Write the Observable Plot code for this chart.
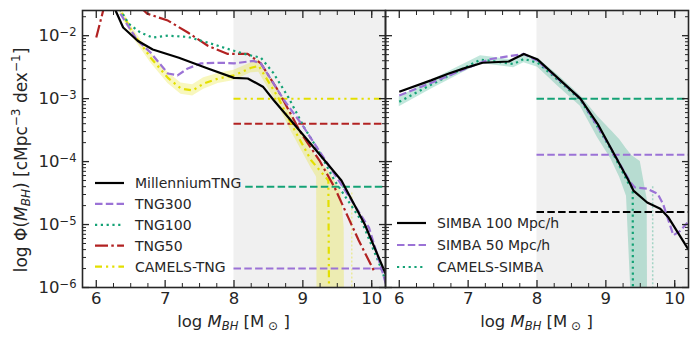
<!DOCTYPE html>
<html>
<head>
<meta charset="utf-8">
<script src="https://cdn.jsdelivr.net/npm/d3@7"></script>
<script src="https://cdn.jsdelivr.net/npm/@observablehq/plot@0.6"></script>
<style>
  html, body { margin: 0; padding: 0; background: #fff; }
  #wrap { position: relative; width: 698px; height: 343px; overflow: hidden; font-family: "DejaVu Sans", sans-serif; }
  #wrap svg { position: absolute; top: 0; overflow: visible; }
</style>
</head>
<body>
<div id="wrap"></div>
<script>
// ---------- axis settings (data space) ----------
const xDomain = [5.8, 10.2];
const yDomainLog = [-6, -1.6];
const xMajor = [6, 7, 8, 9, 10];
const xMinor = [6.25, 6.5, 6.75, 7.25, 7.5, 7.75, 8.25, 8.5, 8.75, 9.25, 9.5, 9.75, 10];
const yMajorExp = [-6, -5, -4, -3, -2];
const shadeStart = 8;

// ---------- left panel: TNG family (log10 Phi) ----------
const mtngX = [6.1, 6.28, 6.39, 6.6, 6.82, 7.2, 7.62, 8.0, 8.2, 8.42, 8.58, 9.0, 9.56, 9.9, 10.2];
const mtngY = [-1.35, -1.6, -1.87, -2.08, -2.22, -2.35, -2.52, -2.67, -2.68, -2.81, -3.03, -3.57, -4.30, -5.0, -5.78];

const tng300X = [6.2, 6.32, 6.6, 6.79, 7.04, 7.18, 7.33, 7.52, 7.81, 8.0, 8.28, 8.39, 8.73, 8.98, 9.52, 9.96, 10.15, 10.22];
const tng300Y = [-1.35, -1.6, -2.08, -2.27, -2.6, -2.63, -2.52, -2.44, -2.43, -2.44, -2.40, -2.44, -3.03, -3.40, -4.30, -5.05, -5.73, -6.0];

const tng100X = [6.3, 6.47, 6.64, 6.82, 7.04, 7.33, 7.62, 7.91, 8.15, 8.39, 8.57, 8.79, 9.02, 9.23, 9.46, 9.85, 10.15, 10.22];
const tng100Y = [-1.5, -1.81, -1.95, -2.03, -2.0, -2.02, -2.11, -2.21, -2.29, -2.35, -2.59, -2.98, -3.46, -3.83, -4.30, -4.94, -5.73, -5.97];

const tng50X = [6.0, 6.1, 6.3, 6.55, 6.74, 7.04, 7.33, 7.62, 7.91, 8.2, 8.39, 8.64, 8.98, 9.24, 9.46, 9.66, 9.81, 10.03];
const tng50Y = [-2.03, -1.6, -1.2, -1.45, -1.65, -1.76, -1.95, -2.16, -2.29, -2.29, -2.44, -2.87, -3.56, -3.98, -4.41, -4.89, -5.25, -5.73];

const camelsTngX = [6.25, 6.35, 6.54, 6.79, 7.04, 7.23, 7.4, 7.56, 7.77, 8.0, 8.25, 8.36, 8.64, 8.83, 9.12, 9.37, 9.39];
const camelsTngY = [-1.4, -1.6, -1.97, -2.35, -2.67, -2.84, -2.87, -2.76, -2.68, -2.63, -2.51, -2.48, -2.98, -3.40, -3.98, -4.30, -8];

const camelsTngBandX  = [6.25, 6.35, 6.54, 6.79, 7.04, 7.23, 7.4, 7.56, 7.77, 8.0, 8.25, 8.36, 8.64, 8.83, 9.12, 9.2, 9.21, 9.37, 9.46, 9.56, 9.6, 9.61];
const camelsTngBandLo = [-1.45, -1.66, -2.04, -2.43, -2.76, -2.93, -2.96, -2.85, -2.76, -2.71, -2.59, -2.58, -3.1, -3.52, -4.1, -4.25, -8, -8, -8, -8, -8, -8];
const camelsTngBandHi = [-1.35, -1.54, -1.9, -2.27, -2.58, -2.75, -2.78, -2.67, -2.6, -2.55, -2.43, -2.38, -2.84, -3.24, -3.82, -3.93, -3.95, -4.15, -4.3, -4.5, -5.05, -8];
const camelsTngFaintX = 9.71, camelsTngFaintTop = -4.5;

// horizontal reference levels (left)
const leftLevels = [
  {name: "CAMELS-TNG", level: -3.0, start: 8.0},
  {name: "TNG50", level: -3.4, start: 8.0},
  {name: "TNG100", level: -4.4, start: 8.17},
  {name: "TNG300", level: -5.7, start: 8.0}
];

// ---------- right panel: SIMBA family ----------
const simba100X = [6.0, 6.46, 6.72, 6.94, 7.21, 7.59, 7.66, 7.81, 8.01, 8.63, 8.88, 9.07, 9.33, 9.40, 9.6, 9.79, 9.91, 10.2];
const simba100Y = [-2.89, -2.71, -2.60, -2.52, -2.43, -2.41, -2.37, -2.29, -2.38, -3.0, -3.40, -3.78, -4.30, -4.46, -4.65, -4.75, -4.89, -5.40];

const simba50X = [6.0, 6.46, 7.18, 7.33, 7.81, 8.01, 8.63, 9.07, 9.35, 9.42, 9.6, 9.75, 9.83, 9.98, 10.08, 10.2];
const simba50Y = [-2.95, -2.75, -2.43, -2.37, -2.29, -2.40, -3.0, -3.78, -4.32, -4.41, -4.43, -4.51, -4.67, -5.17, -5.1, -4.95];

const camelsSimbaX = [6.0, 6.46, 7.18, 7.33, 7.66, 7.81, 8.01, 8.3, 8.63, 8.88, 9.07, 9.33, 9.39, 9.395];
const camelsSimbaY = [-3.05, -2.78, -2.38, -2.40, -2.45, -2.37, -2.43, -2.7, -3.02, -3.45, -3.80, -4.35, -4.42, -8];

const camelsSimbaBandX  = [6.0, 6.46, 7.18, 7.33, 7.66, 7.81, 8.01, 8.3, 8.63, 8.88, 9.07, 9.2, 9.3, 9.36, 9.37, 9.5, 9.55, 9.6, 9.61];
const camelsSimbaBandLo = [-3.13, -2.85, -2.44, -2.46, -2.51, -2.43, -2.5, -2.8, -3.12, -3.62, -3.95, -4.25, -4.55, -6.0, -8, -8, -8, -8, -8];
const camelsSimbaBandHi = [-2.97, -2.71, -2.32, -2.34, -2.39, -2.31, -2.36, -2.62, -2.95, -3.28, -3.5, -3.65, -3.8, -3.88, -3.9, -4.0, -4.3, -4.6, -8];
const camelsSimbaFaintX = 9.68, camelsSimbaFaintTop = -4.4;

const rightLevels = [
  {name: "CAMELS-SIMBA", level: -3.0, start: 8.0},
  {name: "SIMBA 50 Mpc/h", level: -3.89, start: 8.0},
  {name: "SIMBA 100 Mpc/h", level: -4.80, start: 8.0}
];

// ---------- styles ----------
const C = {black: "#000000", purple: "#9b72d6", green: "#14a276", red: "#b22222", yellow: "#e3df00"};
const DASH = {solid: null, dashed: "7.5,3.3", dotted: "2.2,3.6", dashdot: "13,3.3,2.5,3.3", dashdotdot: "7,4,2.2,4,2.2,4"};

const leftSeries = [
  {name: "MillenniumTNG", xs: mtngX, ys: mtngY, color: C.black, dash: DASH.solid},
  {name: "TNG300", xs: tng300X, ys: tng300Y, color: C.purple, dash: DASH.dashed},
  {name: "TNG100", xs: tng100X, ys: tng100Y, color: C.green, dash: DASH.dotted},
  {name: "TNG50", xs: tng50X, ys: tng50Y, color: C.red, dash: DASH.dashdot},
  {name: "CAMELS-TNG", xs: camelsTngX, ys: camelsTngY, color: C.yellow, dash: DASH.dashdotdot}
];
const rightSeries = [
  {name: "SIMBA 100 Mpc/h", xs: simba100X, ys: simba100Y, color: C.black, dash: DASH.solid},
  {name: "SIMBA 50 Mpc/h", xs: simba50X, ys: simba50Y, color: C.purple, dash: DASH.dashed},
  {name: "CAMELS-SIMBA", xs: camelsSimbaX, ys: camelsSimbaY, color: C.green, dash: DASH.dotted}
];
const levelStyle = {
  "CAMELS-TNG": {color: C.yellow, dash: DASH.dashdotdot},
  "TNG50": {color: C.red, dash: DASH.dashed},
  "TNG100": {color: C.green, dash: DASH.dashed},
  "TNG300": {color: C.purple, dash: DASH.dashed},
  "CAMELS-SIMBA": {color: C.green, dash: DASH.dashed},
  "SIMBA 50 Mpc/h": {color: C.purple, dash: DASH.dashed},
  "SIMBA 100 Mpc/h": {color: C.black, dash: DASH.dashed}
};

// ---------- helpers ----------
const pts = (xs, ys) => xs.map((x, i) => ({x, y: 10 ** ys[i]}));
const band = (xs, lo, hi) => xs.map((x, i) => ({x, lo: 10 ** lo[i], hi: 10 ** hi[i]}));
const fmtPow = d => "10^" + Math.round(Math.log10(d));
const yMajor = yMajorExp.map(e => 10 ** e);
const yMinor = [];
for (let e = yDomainLog[0]; e < Math.ceil(yDomainLog[1]); e++)
  for (let k = 2; k <= 9; k++) { const v = k * 10 ** e; if (Math.log10(v) <= yDomainLog[1]) yMinor.push(v); }
const ink = "#262626";
const TICKFONT = 16.5;

function panel({width, marginLeft, marginRight, series, levels, bandData, faint, showY}) {
  const shade = [{x1: shadeStart, x2: xDomain[1], y1: 10 ** yDomainLog[0], y2: 10 ** yDomainLog[1]}];
  const marks = [
    Plot.rect(shade, {x1: "x1", x2: "x2", y1: "y1", y2: "y2", fill: "#f0f0f0"}),
    Plot.areaY(bandData.data, {x: "x", y1: "lo", y2: "hi", fill: bandData.color, fillOpacity: bandData.opacity, curve: "linear", clip: true}),
    Plot.ruleX([faint.x], {y1: 10 ** faint.top, y2: 10 ** yDomainLog[0], stroke: bandData.color, strokeOpacity: 0.35, strokeWidth: 1.5, strokeDasharray: "2,2"}),
    ...levels.map(l => Plot.ruleY([10 ** l.level], {x1: l.start, x2: xDomain[1], stroke: levelStyle[l.name].color, strokeWidth: 2, strokeDasharray: levelStyle[l.name].dash, clip: true})),
    ...series.slice().reverse().map(s => Plot.line(pts(s.xs, s.ys), {x: "x", y: "y", stroke: s.color, strokeWidth: 2.2, strokeDasharray: s.dash, strokeLinecap: "butt", strokeLinejoin: "round", clip: true})),
    // inward ticks on all sides
    Plot.axisX(xMajor, {anchor: "bottom", tickSize: -7, fill: "none", label: null, stroke: ink, strokeWidth: 1.3}),
    Plot.axisX(xMinor, {anchor: "bottom", tickSize: -4, fill: "none", label: null, stroke: ink, strokeWidth: 1}),
    Plot.axisX(xMajor, {anchor: "top", tickSize: -7, fill: "none", label: null, stroke: ink, strokeWidth: 1.3}),
    Plot.axisX(xMinor, {anchor: "top", tickSize: -4, fill: "none", label: null, stroke: ink, strokeWidth: 1}),
    Plot.axisY(yMajor, {anchor: "left", tickSize: -7, fill: "none", label: null, stroke: ink, strokeWidth: 1.3}),
    Plot.axisY(yMinor, {anchor: "left", tickSize: -4, fill: "none", label: null, stroke: ink, strokeWidth: 1}),
    Plot.axisY(yMajor, {anchor: "right", tickSize: -7, fill: "none", label: null, stroke: ink, strokeWidth: 1.3}),
    Plot.axisY(yMinor, {anchor: "right", tickSize: -4, fill: "none", label: null, stroke: ink, strokeWidth: 1}),
    // tick labels
    Plot.axisX(xMajor, {anchor: "bottom", tickSize: 0, tickPadding: 5, label: null, tickFormat: d => String(d), fill: ink, fontSize: TICKFONT})
  ];
  if (showY) marks.push(Plot.axisY(yMajor, {anchor: "left", tickSize: 0, tickPadding: 6, label: null, tickFormat: fmtPow, fill: ink, fontSize: TICKFONT, ariaLabel: "ypow"}));
  marks.push(Plot.frame({stroke: ink, strokeWidth: 1.6}));
  const svg = Plot.plot({
    width, height: 343, marginTop: 10, marginBottom: 56, marginLeft, marginRight,
    x: {domain: xDomain},
    y: {type: "log", domain: [10 ** yDomainLog[0], 10 ** yDomainLog[1]]},
    style: {fontFamily: "DejaVu Sans", fontSize: TICKFONT + "px", background: "transparent", overflow: "visible", color: ink},
    marks
  });
  // render "10^e" labels as base with a raised, smaller exponent (matplotlib style)
  d3.select(svg).selectAll("text").each(function() {
    const el = d3.select(this);
    const t = el.text();
    const m = /^10\^(-?\d+)$/.exec(t);
    if (!m) return;
    el.text(null);
    el.append("tspan").text("10");
    el.append("tspan").attr("dy", "-0.45em").attr("font-size", "0.7em").text(m[1].replace("-", "−"));
  });
  return svg;
}

const wrap = document.getElementById("wrap");
const left = panel({width: 385, marginLeft: 82, marginRight: 0, series: leftSeries, levels: leftLevels,
  bandData: {data: band(camelsTngBandX, camelsTngBandLo, camelsTngBandHi), color: C.yellow, opacity: 0.26},
  faint: {x: camelsTngFaintX, top: camelsTngFaintTop}, showY: true});
left.style.left = "0px";
wrap.appendChild(left);
const right = panel({width: 313, marginLeft: 0, marginRight: 10, series: rightSeries, levels: rightLevels,
  bandData: {data: band(camelsSimbaBandX, camelsSimbaBandLo, camelsSimbaBandHi), color: C.green, opacity: 0.26},
  faint: {x: camelsSimbaFaintX, top: camelsSimbaFaintTop}, showY: false});
right.style.left = "385px";
wrap.appendChild(right);

// ---------- overlay: legends and axis titles ----------
const ov = d3.select(wrap).append("svg").attr("width", 698).attr("height", 343).style("left", "0px")
  .style("font-family", "DejaVu Sans").style("fill", ink);

function legend(series, x0, y0, step) {
  series.forEach((s, i) => {
    const y = y0 + i * step;
    ov.append("line").attr("x1", x0).attr("x2", x0 + 29).attr("y1", y).attr("y2", y)
      .attr("stroke", s.color).attr("stroke-width", 2.2).attr("stroke-dasharray", s.dash).attr("stroke-linecap", "butt");
    ov.append("text").attr("x", x0 + 40).attr("y", y).attr("dy", "0.36em").attr("font-size", 14).text(s.name);
  });
}
legend(leftSeries, 95, 183, 20.9);
legend(rightSeries, 397, 223, 22);

function xTitle(cx) {
  const t = ov.append("text").attr("x", cx).attr("y", 327).attr("text-anchor", "middle").attr("font-size", 16.5);
  t.append("tspan").text("log ");
  t.append("tspan").attr("font-style", "italic").text("M");
  t.append("tspan").attr("font-style", "italic").attr("font-size", 11.5).attr("dy", 3).text("BH");
  t.append("tspan").attr("dy", -3).text(" [M");
  t.append("tspan").attr("font-size", 12).attr("dy", 3).text(" ⊙");
  t.append("tspan").attr("dy", -3).text(" ]");
}
xTitle(233.5);
xTitle(536.5);

const yt = ov.append("text").attr("transform", "translate(27,160) rotate(-90)").attr("text-anchor", "middle").attr("font-size", 17);
yt.append("tspan").text("log Φ(");
yt.append("tspan").attr("font-style", "italic").text("M");
yt.append("tspan").attr("font-style", "italic").attr("font-size", 12).attr("dy", 3).text("BH");
yt.append("tspan").attr("dy", -3).text(") [cMpc");
yt.append("tspan").attr("font-size", 12).attr("dy", -7).text("−3");
yt.append("tspan").attr("dy", 7).text(" dex");
yt.append("tspan").attr("font-size", 12).attr("dy", -7).text("−1");
yt.append("tspan").attr("dy", 7).text("]");
</script>
</body>
</html>
